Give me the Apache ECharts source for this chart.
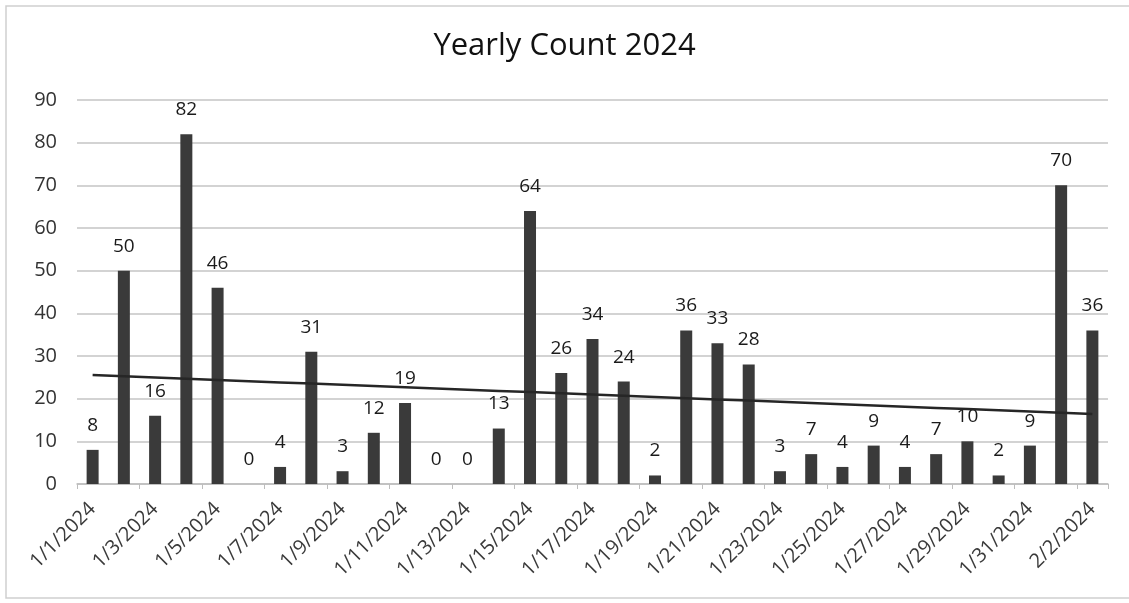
<!DOCTYPE html>
<html>
<head>
<meta charset="utf-8">
<script src="https://cdn.jsdelivr.net/npm/echarts@6/dist/echarts.min.js"></script>
<style>
  html, body { margin: 0; padding: 0; background: #fff; }
  #chart { width: 1129px; height: 603px; }
</style>
</head>
<body>
<div id="chart"></div>
<script>
  // dates and daily counts
  var days = ['1/1/2024','1/2/2024','1/3/2024','1/4/2024','1/5/2024','1/6/2024','1/7/2024','1/8/2024',
    '1/9/2024','1/10/2024','1/11/2024','1/12/2024','1/13/2024','1/14/2024','1/15/2024','1/16/2024',
    '1/17/2024','1/18/2024','1/19/2024','1/20/2024','1/21/2024','1/22/2024','1/23/2024','1/24/2024',
    '1/25/2024','1/26/2024','1/27/2024','1/28/2024','1/29/2024','1/30/2024','1/31/2024','2/1/2024','2/2/2024'];
  var counts = [8, 50, 16, 82, 46, 0, 4, 31, 3, 12, 19, 0, 0, 13, 64, 26, 34, 24, 2, 36, 33, 28, 3, 7, 4, 9, 4, 7, 10, 2, 9, 70, 36];
  var yTicks = [0, 10, 20, 30, 40, 50, 60, 70, 80, 90];

  // linear trend (least squares) of the counts
  var n = counts.length, sx = 0, sy = 0, sxy = 0, sxx = 0;
  for (var i = 0; i < n; i++) { sx += i; sy += counts[i]; sxy += i * counts[i]; sxx += i * i; }
  var slope = (n * sxy - sx * sy) / (n * sxx - sx * sx);
  var icpt = (sy - slope * sx) / n;
  var trend = [];
  for (var i = 0; i < n; i++) trend.push(+(icpt + slope * i).toFixed(3));

  var font = '"Open Sans", "Noto Sans", sans-serif';
  var myChart = echarts.init(document.getElementById('chart'));
  var option = {
    backgroundColor: '#fff',
    animation: false,
    title: {
      text: 'Yearly Count 2024',
      left: 'center',
      top: 26,
      textStyle: { fontFamily: font, fontSize: 31, fontWeight: 'normal', color: '#111' }
    },
    graphic: [{
      type: 'rect',
      shape: { x: 6, y: 6, width: 1140, height: 592 },
      style: { fill: 'none', stroke: '#cfcfcf', lineWidth: 1.5 },
      silent: true
    }],
    grid: { left: 77, right: 21, top: 100, bottom: 119 },
    xAxis: {
      type: 'category',
      data: days,
      axisLine: { lineStyle: { color: '#bdbdbd', width: 1.5 } },
      axisTick: { show: true, interval: 1, length: 5, lineStyle: { color: '#bdbdbd' } },
      axisLabel: {
        interval: 1,
        rotate: 45,
        margin: 22,
        fontFamily: font,
        fontSize: 20,
        color: '#3a3a3a'
      }
    },
    yAxis: {
      type: 'value',
      min: yTicks[0],
      max: yTicks[yTicks.length - 1],
      interval: 10,
      axisLine: { show: false },
      axisTick: { show: false },
      splitLine: { lineStyle: { color: '#c4c4c4', width: 1.5 } },
      axisLabel: { fontFamily: font, fontSize: 20, color: '#333', margin: 20 }
    },
    series: [
      {
        name: 'Count',
        type: 'bar',
        data: counts,
        barWidth: 12,
        itemStyle: { color: '#3a3a3a' },
        label: {
          show: true,
          position: 'top',
          distance: 15,
          fontFamily: font,
          fontSize: 19,
          color: '#1a1a1a'
        }
      },
      {
        name: 'Trend',
        type: 'line',
        data: trend,
        symbol: 'none',
        lineStyle: { color: '#262626', width: 2.5 },
        z: 5
      }
    ]
  };
  myChart.setOption(option);
  window.onresize = myChart.resize;
</script>
</body>
</html>
